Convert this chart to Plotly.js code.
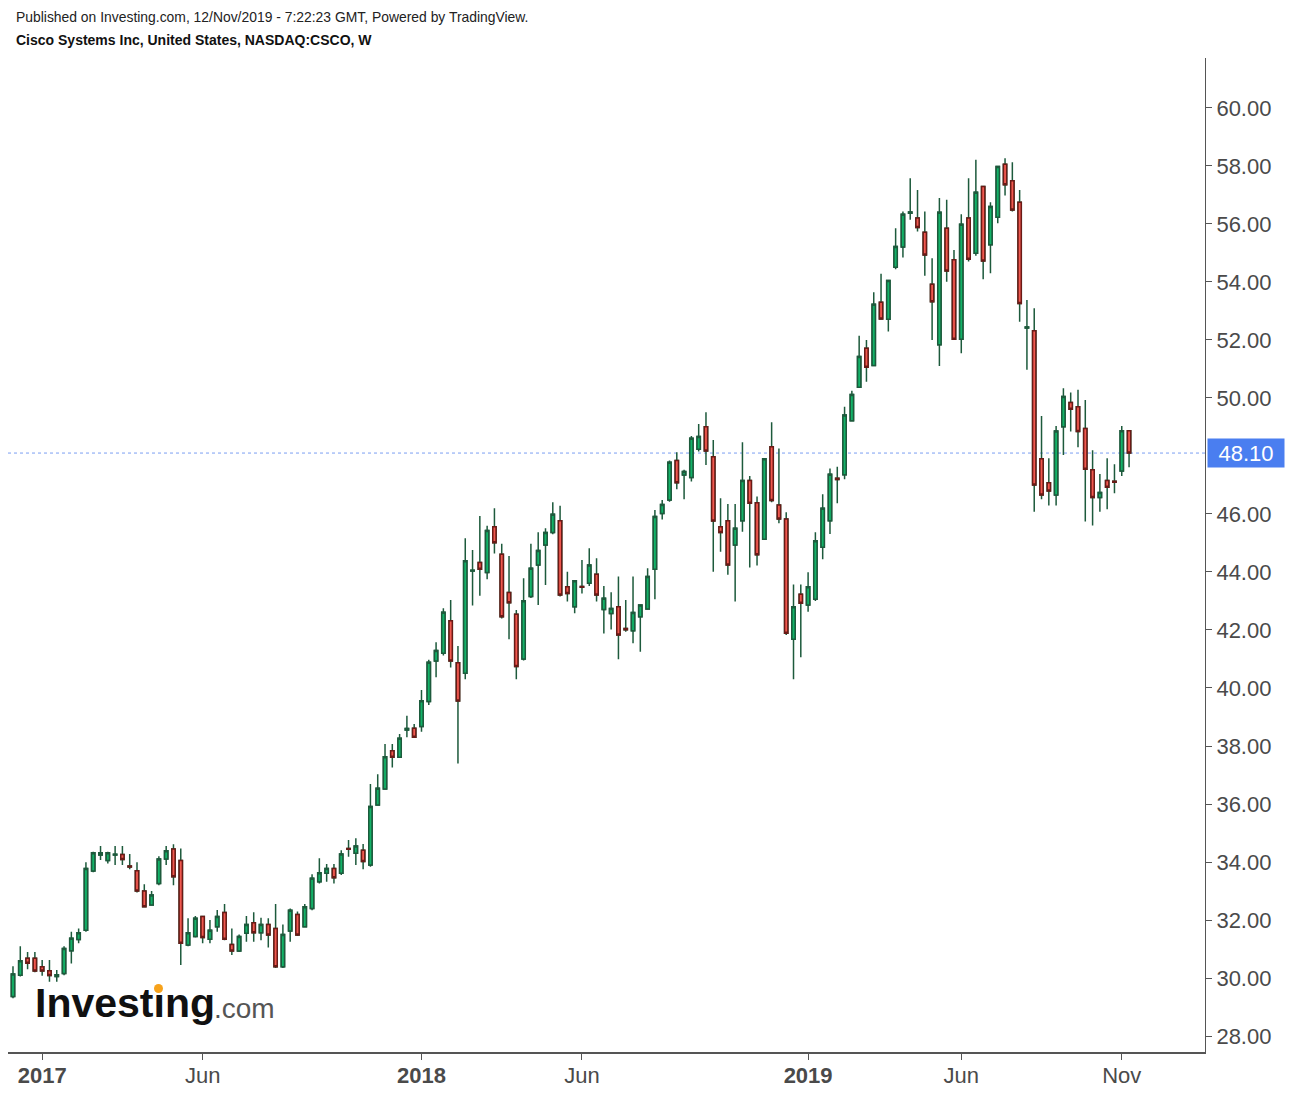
<!DOCTYPE html>
<html>
<head>
<meta charset="utf-8">
<script src="https://cdn.plot.ly/plotly-3.0.1.min.js"></script>
<style>
  html, body { margin: 0; padding: 0; background: #ffffff; }
  #chart { width: 1290px; height: 1094px; }
</style>
</head>
<body>
<div id="chart"></div>
<script>
// Weekly bars (week starting Monday)
const weekDates = [
'2016-12-05','2016-12-12','2016-12-19','2016-12-26',
'2017-01-02','2017-01-09','2017-01-16','2017-01-23','2017-01-30','2017-02-06','2017-02-13','2017-02-20','2017-02-27',
'2017-03-06','2017-03-13','2017-03-20','2017-03-27','2017-04-03','2017-04-10','2017-04-17','2017-04-24',
'2017-05-01','2017-05-08','2017-05-15','2017-05-22','2017-05-29','2017-06-05','2017-06-12','2017-06-19','2017-06-26',
'2017-07-03','2017-07-10','2017-07-17','2017-07-24','2017-07-31','2017-08-07','2017-08-14','2017-08-21','2017-08-28',
'2017-09-04','2017-09-11','2017-09-18','2017-09-25','2017-10-02','2017-10-09','2017-10-16','2017-10-23','2017-10-30',
'2017-11-06','2017-11-13','2017-11-20','2017-11-27','2017-12-04','2017-12-11','2017-12-18','2017-12-25',
'2018-01-01','2018-01-08','2018-01-15','2018-01-22','2018-01-29','2018-02-05','2018-02-12','2018-02-19','2018-02-26',
'2018-03-05','2018-03-12','2018-03-19','2018-03-26','2018-04-02','2018-04-09','2018-04-16','2018-04-23','2018-04-30',
'2018-05-07','2018-05-14','2018-05-21','2018-05-28','2018-06-04','2018-06-11','2018-06-18','2018-06-25',
'2018-07-02','2018-07-09','2018-07-16','2018-07-23','2018-07-30','2018-08-06','2018-08-13','2018-08-20','2018-08-27',
'2018-09-03','2018-09-10','2018-09-17','2018-09-24','2018-10-01','2018-10-08','2018-10-15','2018-10-22','2018-10-29',
'2018-11-05','2018-11-12','2018-11-19','2018-11-26','2018-12-03','2018-12-10','2018-12-17','2018-12-24','2018-12-31',
'2019-01-07','2019-01-14','2019-01-21','2019-01-28','2019-02-04','2019-02-11','2019-02-18','2019-02-25',
'2019-03-04','2019-03-11','2019-03-18','2019-03-25','2019-04-01','2019-04-08','2019-04-15','2019-04-22','2019-04-29',
'2019-05-06','2019-05-13','2019-05-20','2019-05-27','2019-06-03','2019-06-10','2019-06-17','2019-06-24',
'2019-07-01','2019-07-08','2019-07-15','2019-07-22','2019-07-29','2019-08-05','2019-08-12','2019-08-19','2019-08-26',
'2019-09-02','2019-09-09','2019-09-16','2019-09-23','2019-09-30','2019-10-07','2019-10-14','2019-10-21','2019-10-28',
'2019-11-04','2019-11-11'
];

const openP = [29.36,30.10,30.68,30.68,30.39,30.25,30.05,30.16,30.94,31.33,
31.65,33.69,34.24,34.05,34.24,34.26,33.86,33.70,33.00,32.52,
33.26,34.10,34.45,34.05,31.14,31.43,32.12,31.34,31.77,32.26,
31.16,30.93,31.54,31.91,31.56,31.85,31.71,30.39,31.62,32.19,
31.77,32.40,33.32,33.61,33.78,33.61,34.47,34.30,34.41,33.90,
35.97,36.52,37.84,37.61,38.55,38.61,38.67,39.53,40.93,41.20,
42.32,40.87,40.51,44.03,44.33,43.98,45.56,44.61,43.29,42.54,
41.00,43.15,44.24,44.93,45.36,45.77,43.49,42.80,43.50,43.61,
43.92,42.71,42.57,42.80,42.05,41.97,42.46,42.72,44.09,46.02,
46.48,47.84,47.34,47.26,48.23,49.01,47.97,45.56,45.77,44.93,
45.77,47.15,46.39,45.13,48.32,46.31,45.83,41.68,43.23,42.86,
43.06,44.85,45.77,47.23,47.35,49.21,50.37,51.71,51.12,53.30,
52.71,54.51,55.20,56.37,56.20,55.71,53.92,51.83,55.85,54.76,
52.02,56.20,54.99,57.29,55.28,56.23,58.06,57.49,56.75,52.41,
52.32,47.90,47.08,46.65,49.01,49.84,49.70,48.95,47.52,46.57,
47.15,47.13,47.48,48.87];

const highP = [30.41,31.10,30.90,30.90,30.62,30.62,30.28,31.10,31.60,31.71,
33.99,34.35,34.55,34.35,34.55,34.55,34.28,33.99,33.23,33.00,
34.20,34.55,34.61,34.47,32.06,32.14,32.14,32.00,32.35,32.55,
31.71,31.50,32.14,32.27,32.08,32.06,32.55,31.85,32.40,32.29,
32.55,33.58,34.13,33.93,33.93,34.41,34.76,34.82,34.62,36.69,
37.03,38.07,38.07,38.41,39.04,38.76,39.93,40.97,41.58,42.75,
43.03,41.45,45.16,44.76,45.93,45.59,46.20,44.97,44.55,42.69,
43.78,44.97,45.37,45.51,46.40,46.28,44.01,43.72,44.41,44.82,
44.47,43.52,43.30,43.84,43.03,43.84,42.86,44.13,46.14,46.48,
47.84,48.13,47.52,48.69,49.10,49.51,48.55,46.54,46.34,46.34,
48.47,47.31,46.60,47.92,49.16,48.26,46.06,43.57,43.57,43.99,
45.37,46.68,47.57,47.63,49.70,50.25,52.14,52.00,53.64,54.28,
54.06,55.85,56.43,57.57,57.17,56.43,54.82,56.89,56.83,55.10,
56.33,57.57,58.21,57.30,56.75,57.99,58.26,58.13,57.17,53.38,
53.09,49.38,47.92,49.03,50.33,50.19,50.28,49.93,48.20,47.38,
47.92,47.71,49.03,48.89];

const lowP = [29.30,30.05,30.30,30.20,30.08,29.87,29.87,30.10,30.50,31.20,
31.60,33.65,34.07,33.95,33.90,33.90,33.75,32.95,32.43,32.50,
33.20,33.90,33.20,30.45,31.10,31.40,31.20,31.20,31.60,31.30,
30.79,30.90,31.25,31.25,31.30,31.05,30.35,30.35,31.25,31.45,
31.75,32.34,33.26,33.32,33.26,33.55,34.18,33.90,33.75,33.84,
35.95,36.50,37.26,37.60,38.30,38.28,38.49,39.41,40.37,41.12,
40.71,37.40,40.30,42.84,43.18,43.75,44.64,42.40,41.68,40.30,
40.95,43.10,42.86,43.55,45.30,43.15,42.98,42.58,43.26,43.52,
42.98,41.88,42.02,40.99,41.94,41.54,41.25,42.70,43.06,45.81,
46.42,46.85,46.51,47.12,48.15,47.69,44.01,44.70,43.90,42.98,
45.39,44.15,44.22,45.10,46.40,45.68,41.83,40.30,41.06,42.63,
43.00,44.44,45.31,46.37,47.20,49.20,50.35,50.56,51.10,52.70,
52.29,54.44,54.84,56.14,55.74,54.21,52.00,51.10,54.01,52.00,
51.54,54.70,54.90,54.09,54.30,56.02,56.98,56.43,52.63,50.97,
46.08,46.51,46.29,46.29,48.03,48.84,48.30,45.74,45.60,46.08,
46.16,46.71,47.31,47.61];

const closeP = [30.14,30.60,30.51,30.24,30.24,30.09,30.11,31.02,31.37,31.56,
33.78,34.32,34.32,34.32,34.27,34.09,33.83,33.00,32.46,32.86,
34.10,34.39,33.49,31.20,31.56,32.06,31.40,31.65,32.12,31.34,
30.93,31.43,31.85,31.56,31.85,31.48,30.39,31.50,32.34,31.48,
32.46,33.44,33.63,33.78,33.46,34.28,34.44,34.55,34.02,35.91,
36.54,37.63,37.61,38.27,38.60,38.30,39.56,40.89,41.29,42.61,
40.93,39.55,44.39,44.06,44.09,45.43,45.01,42.46,42.94,40.74,
43.01,44.13,44.74,45.36,45.99,43.21,43.26,43.70,43.47,44.24,
43.21,43.09,42.74,41.83,42.01,42.60,42.86,43.84,45.91,46.33,
47.78,47.08,47.46,48.61,48.67,48.17,45.76,45.36,44.24,45.51,
47.15,46.37,44.59,47.90,46.46,45.83,41.89,42.80,42.92,43.49,
45.08,46.20,47.37,47.19,49.41,50.12,51.43,51.06,53.23,52.72,
54.05,55.22,56.33,56.41,55.88,54.93,53.32,56.40,54.38,52.02,
55.99,54.78,57.09,54.72,56.60,57.98,57.35,56.48,53.26,52.45,
47.00,46.65,46.79,48.86,50.05,49.61,48.84,47.54,46.57,46.74,
46.92,47.09,48.87,48.10];

const xTickVals = ['2017-01-02','2017-06-05','2018-01-01','2018-06-04','2019-01-07','2019-06-03','2019-11-04'];
const xTickText = ['<b>2017</b>','Jun','<b>2018</b>','Jun','<b>2019</b>','Jun','Nov'];
// 48.00 is hidden behind the last-price label in the reference
const yTickVals = [28, 30, 32, 34, 36, 38, 40, 42, 44, 46, 50, 52, 54, 56, 58, 60];

const WICK = '#1d5a3c';
const UP_FILL = '#12b368';
const UP_LINE = '#1d5a3c';
const DN_FILL = '#f0594f';
const DN_LINE = '#6a1a16';

// body extent derived from open/close
const bodyHigh = openP.map((o, i) => Math.max(o, closeP[i]));
const bodyLow = openP.map((o, i) => Math.min(o, closeP[i]));
const lastClose = closeP[closeP.length - 1];

const wickTrace = {
  type: 'candlestick',
  x: weekDates, open: openP, high: highP, low: lowP, close: closeP,
  increasing: {line: {color: WICK, width: 1.5}, fillcolor: WICK},
  decreasing: {line: {color: WICK, width: 1.5}, fillcolor: WICK},
  showlegend: false, hoverinfo: 'skip'
};

const bodyTrace = {
  type: 'candlestick',
  x: weekDates, open: openP, high: bodyHigh, low: bodyLow, close: closeP,
  increasing: {line: {color: UP_LINE, width: 1.5}, fillcolor: UP_FILL},
  decreasing: {line: {color: DN_LINE, width: 1.5}, fillcolor: DN_FILL},
  showlegend: false
};

const axisFont = {family: 'Liberation Sans, Arial, sans-serif', size: 22, color: '#4a4a4a'};

const layout = {
  width: 1290, height: 1094,
  margin: {l: 8, r: 85, t: 58, b: 42, pad: 0},
  paper_bgcolor: '#ffffff', plot_bgcolor: '#ffffff',
  showlegend: false,
  boxgap: 0.35,
  xaxis: {
    type: 'date',
    range: ['2016-11-30 05:00', '2020-01-22 21:00'],
    tickmode: 'array', tickvals: xTickVals, ticktext: xTickText,
    ticks: 'outside', ticklen: 6, tickwidth: 1, tickcolor: '#555555',
    ticklabelstandoff: -3,
    showline: true, linecolor: '#555555', linewidth: 2,
    showgrid: false, zeroline: false,
    tickfont: axisFont,
    rangeslider: {visible: false},
    fixedrange: true
  },
  yaxis: {
    side: 'right',
    range: [27.45, 61.72],
    tickmode: 'array', tickvals: yTickVals, tickformat: '.2f',
    ticks: 'outside', ticklen: 6, tickwidth: 1, tickcolor: '#555555',
    showline: true, linecolor: '#555555', linewidth: 1,
    showgrid: false, zeroline: false,
    tickfont: axisFont,
    fixedrange: true
  },
  shapes: [
    {type: 'line', xref: 'paper', yref: 'y', x0: 0, x1: 1, y0: lastClose, y1: lastClose,
     line: {color: '#7b9ef2', width: 1, dash: 'dot'}, layer: 'below'},
    {type: 'circle', xref: 'paper', yref: 'paper', xsizemode: 'pixel', ysizemode: 'pixel',
     xanchor: 0, yanchor: 0, x0: 146, x1: 155, y0: 59, y1: 68,
     fillcolor: '#f7a21b', line: {width: 0}}
  ],
  annotations: [
    {xref: 'paper', yref: 'paper', x: 0, y: 1, xanchor: 'left', yanchor: 'middle',
     xshift: 6, yshift: 41, showarrow: false,
     text: 'Published on Investing.com, 12/Nov/2019 - 7:22:23 GMT, Powered by TradingView.',
     font: {family: 'Liberation Sans, Arial, sans-serif', size: 13.9, color: '#222222'}},
    {xref: 'paper', yref: 'paper', x: 0, y: 1, xanchor: 'left', yanchor: 'middle',
     xshift: 6, yshift: 18, showarrow: false,
     text: '<b>Cisco Systems Inc, United States, NASDAQ:CSCO, W</b>',
     font: {family: 'Liberation Sans, Arial, sans-serif', size: 14, color: '#111111'}},
    {xref: 'paper', yref: 'y', x: 1, y: lastClose, xanchor: 'left', yanchor: 'middle',
     xshift: 2, showarrow: false, text: lastClose.toFixed(2),
     bgcolor: '#4a7ef0', borderpad: 3, width: 70, height: 22, align: 'center',
     font: {family: 'Liberation Sans, Arial, sans-serif', size: 22, color: '#ffffff'}},
    {xref: 'paper', yref: 'paper', x: 0, y: 0, xanchor: 'left', yanchor: 'middle',
     xshift: 25, yshift: 49, showarrow: false,
     text: '<b>Investıng</b>',
     font: {family: 'Liberation Sans, Arial, sans-serif', size: 41, color: '#111111'}},
    {xref: 'paper', yref: 'paper', x: 0, y: 0, xanchor: 'left', yanchor: 'middle',
     xshift: 204, yshift: 44, showarrow: false,
     text: '.com',
     font: {family: 'Liberation Sans, Arial, sans-serif', size: 28, color: '#555555'}}
  ]
};

Plotly.newPlot('chart', [wickTrace, bodyTrace], layout, {displayModeBar: false, staticPlot: true});
</script>
</body>
</html>
